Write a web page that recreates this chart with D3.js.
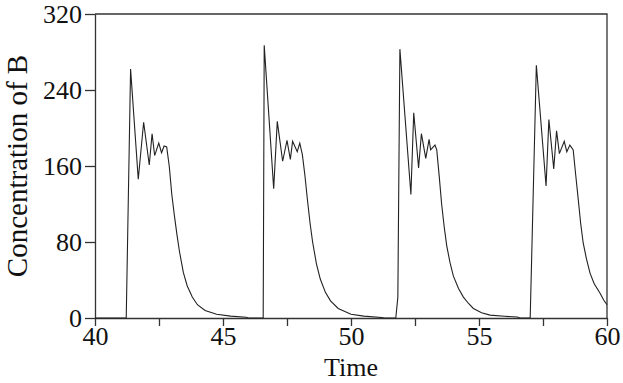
<!DOCTYPE html>
<html>
<head>
<meta charset="utf-8">
<script src="https://cdn.jsdelivr.net/npm/d3@7"></script>
<style>
  body { margin: 0; background: #fff; }
  text { font-family: "Liberation Serif", "DejaVu Serif", serif; fill: #111; }
</style>
</head>
<body>
<div id="container"></div>
<script>
// values
var time = [40, 41.22, 41.39, 41.69, 41.90, 42.12, 42.23, 42.33, 42.49, 42.60, 42.70, 42.80,
  42.90, 43.00, 43.10, 43.20, 43.30, 43.45, 43.60, 43.80, 44.00, 44.30, 44.75, 45.30, 45.90, 46.00,
  46.57, 46.61, 46.98, 47.12, 47.33, 47.50, 47.63, 47.72, 47.90, 48.00,
  48.10, 48.20, 48.30, 48.40, 48.50, 48.65, 48.80, 49.00, 49.20, 49.50, 50.00, 50.50, 51.20, 51.30,
  51.75, 51.83, 51.91, 52.34, 52.45, 52.64, 52.75, 52.92, 53.05, 53.11, 53.28, 53.35,
  53.45, 53.54, 53.64, 53.74, 53.87, 54.00, 54.20, 54.39, 54.60, 54.78, 55.10, 55.43, 56.00, 56.50, 56.60,
  57.00, 57.24, 57.62, 57.73, 57.92, 58.03, 58.14, 58.33, 58.43, 58.55, 58.68,
  58.78, 58.88, 58.97, 59.07, 59.20, 59.34, 59.50, 59.73, 59.87, 60.00];
var concB = [0, 0, 262, 146, 206, 161, 194, 171, 184, 174, 181, 180,
  160, 130, 108, 88, 70, 48, 34, 22, 14, 8, 4, 2, 0.8, 0,
  0, 287, 136, 207, 165, 187, 167, 186, 175, 184,
  172, 150, 124, 100, 80, 57, 41, 27, 18, 10, 4, 2, 0.6, 0,
  0, 22, 283, 130, 216, 158, 194, 168, 188, 177, 182, 177,
  148, 120, 96, 76, 58, 44, 31, 22, 15, 10, 5.5, 3, 1.8, 1, 0,
  0, 266, 139, 209, 157, 197, 173, 186, 175, 182, 177,
  150, 124, 100, 79, 62, 47, 36, 26, 19, 14];

var xTicks = [40, 45, 50, 55, 60];
var xMinorTicks = [42.5, 47.5, 52.5, 57.5];
var yTicks = [0, 80, 160, 240, 320];

var margin = {top: 14, right: 16, bottom: 65, left: 95},
    width = 623 - margin.left - margin.right,
    height = 383 - margin.top - margin.bottom;

var svg = d3.select("#container")
  .append("svg")
    .attr("width", 623)
    .attr("height", 383)
  .append("g")
    .attr("transform", "translate(" + margin.left + "," + margin.top + ")");

var x = d3.scaleLinear().domain([40, 60]).range([0, width]);
var y = d3.scaleLinear().domain([0, 320]).range([height, 0]);

var data = time.map(function(t, i) { return {t: t, c: concB[i]}; });

// frame (top + right)
svg.append("path")
  .attr("d", "M0,0H" + width + "V" + height)
  .attr("fill", "none")
  .attr("stroke", "#333")
  .attr("stroke-width", 1.3);

// y axis
var yAxis = svg.append("g")
  .call(d3.axisLeft(y).tickValues(yTicks).tickSize(10).tickSizeOuter(0).tickPadding(3));
yAxis.selectAll("text").style("font-size", "26px").attr("dy", "0.34em");

// x axis + minor ticks
var xAxis = svg.append("g")
  .attr("transform", "translate(0," + height + ")")
  .call(d3.axisBottom(x).tickValues(xTicks).tickSize(8).tickSizeOuter(0).tickPadding(1));
xAxis.selectAll("text").style("font-size", "26px");

svg.append("g")
  .attr("transform", "translate(0," + height + ")")
  .call(d3.axisBottom(x).tickValues(xMinorTicks).tickSize(8).tickSizeOuter(0).tickFormat(""))
  .select(".domain").remove();

svg.selectAll(".domain, .tick line").attr("stroke", "#333").attr("stroke-width", 1.3);

// the curve
svg.append("path")
  .datum(data)
  .attr("fill", "none")
  .attr("stroke", "#222")
  .attr("stroke-width", 1.1)
  .attr("d", d3.line().x(d => x(d.t)).y(d => y(d.c)));

// labels
svg.append("text")
  .attr("text-anchor", "middle")
  .attr("x", width / 2)
  .attr("y", height + 58)
  .style("font-size", "26px")
  .text("Time");

svg.append("text")
  .attr("text-anchor", "middle")
  .attr("transform", "rotate(-90)")
  .attr("x", -height / 2)
  .attr("y", -68)
  .style("font-size", "29px")
  .text("Concentration of B");
</script>
</body>
</html>
